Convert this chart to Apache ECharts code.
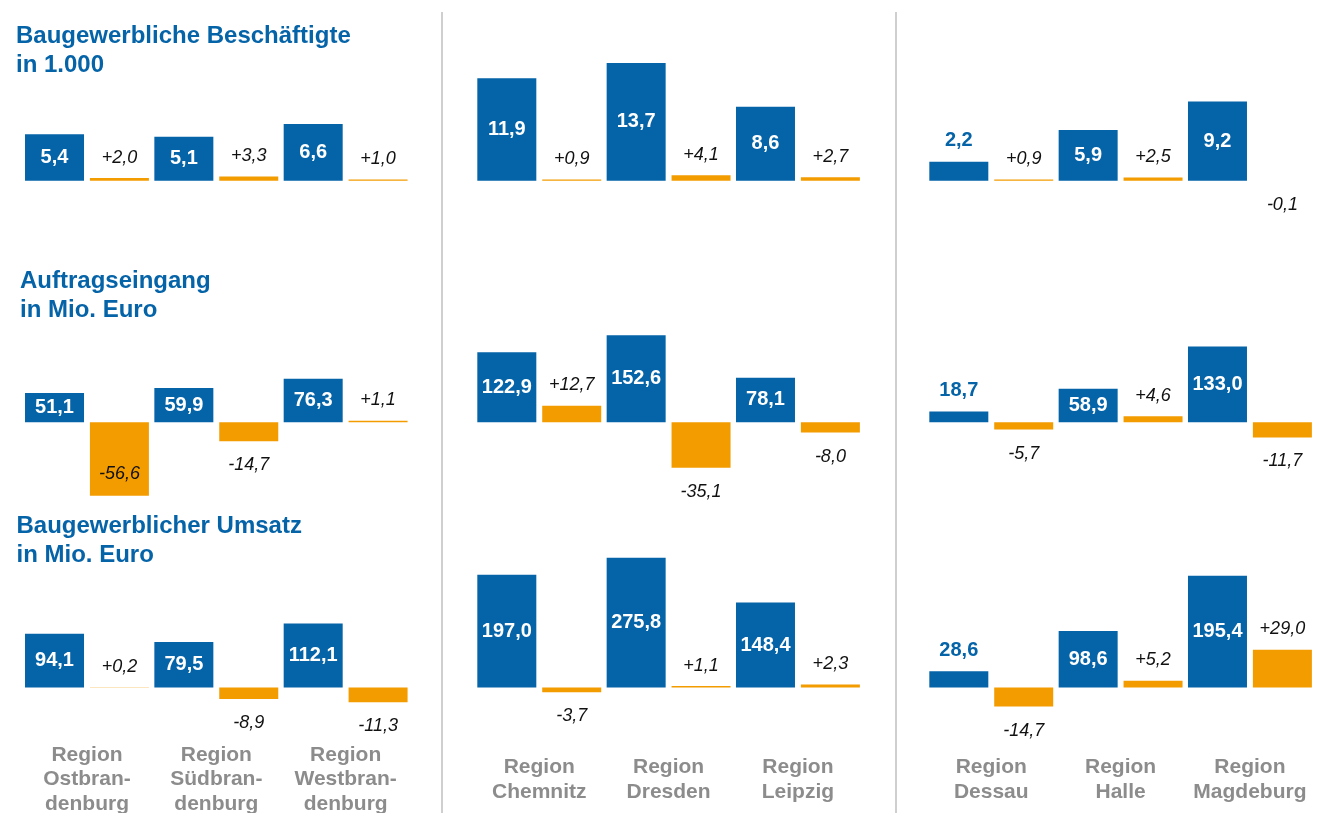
<!DOCTYPE html>
<html>
<head>
<meta charset="utf-8">
<script src="https://cdn.jsdelivr.net/npm/echarts@6/dist/echarts.min.js"></script>
<style>
  html, body { margin: 0; padding: 0; background: #ffffff; }
  #chart { width: 1321px; height: 813px; }
</style>
</head>
<body>
<div id="chart"></div>
<script>
// ---------- data ----------
const regionsBrandenburg = ['Region\nOstbran-\ndenburg', 'Region\nSüdbran-\ndenburg', 'Region\nWestbran-\ndenburg'];
const regionsSachsen = ['Region\nChemnitz', 'Region\nDresden', 'Region\nLeipzig'];
const regionsSachsenAnhalt = ['Region\nDessau', 'Region\nHalle', 'Region\nMagdeburg'];

const titles = ['Baugewerbliche Beschäftigte\nin 1.000', 'Auftragseingang\nin Mio. Euro', 'Baugewerblicher Umsatz\nin Mio. Euro'];

// values per region (Brandenburg x3, Sachsen x3, Sachsen-Anhalt x3)
const beschaeftigte       = [5.4, 5.1, 6.6, 11.9, 13.7, 8.6, 2.2, 5.9, 9.2];
const beschaeftigteChange = [2.0, 3.3, 1.0, 0.9, 4.1, 2.7, 0.9, 2.5, -0.1];
const auftrag             = [51.1, 59.9, 76.3, 122.9, 152.6, 78.1, 18.7, 58.9, 133.0];
const auftragChange       = [-56.6, -14.7, 1.1, 12.7, -35.1, -8.0, -5.7, 4.6, -11.7];
const umsatz              = [94.1, 79.5, 112.1, 197.0, 275.8, 148.4, 28.6, 98.6, 195.4];
const umsatzChange        = [0.2, -8.9, -11.3, -3.7, 1.1, 2.3, -14.7, 5.2, 29.0];

// ---------- layout / style ----------
const BLUE = '#0563A8';
const ORANGE = '#F39C00';
const GRAY = '#8C8C8C';
const FONT = '"Liberation Sans", Arial, Helvetica, sans-serif';

const regionGroups = [regionsBrandenburg, regionsSachsen, regionsSachsenAnhalt];
const rowValues = [beschaeftigte, auftrag, umsatz];
const rowChanges = [beschaeftigteChange, auftragChange, umsatzChange];

const colLeft = [22.3, 474.6, 926.6];
const colWidth = 388;
const rowBase = [180.7, 422.2, 687.5];
const rowTop = [40, 300, 557.7];
const rowBottom = [260, 520, 740];
const bluePpu = [8.6, 0.569, 0.572];
const orangePpu = 1.3;
const titleTop = [21.5, 267, 512];
const titleLeft = [16, 20, 16.5];
const labelCenterY = 779.5;

function fmt(v) { return v.toFixed(1).replace('.', ','); }
function fmtSigned(v) { return (v > 0 ? '+' : '') + fmt(v); }

const grid = [], xAxis = [], yAxis = [], series = [];

for (let r = 0; r < 3; r++) {
  for (let c = 0; c < 3; c++) {
    const k = r * 3 + c;
    const top = rowTop[r], bottom = rowBottom[r], base = rowBase[r];
    grid.push({
      left: colLeft[c], top: top, width: colWidth, height: bottom - top,
      containLabel: false, outerBoundsMode: 'none'
    });
    const isBottomRow = r === 2;
    xAxis.push({
      type: 'category', gridIndex: k, data: regionGroups[c],
      axisLine: { show: false, onZero: false }, axisTick: { show: false },
      splitLine: { show: false },
      axisLabel: {
        show: isBottomRow, interval: 0,
        margin: labelCenterY - bottom,
        verticalAlign: 'middle',
        color: GRAY, fontSize: 21, fontWeight: 'bold', fontFamily: FONT,
        lineHeight: 24.5, align: 'center'
      }
    });
    yAxis.push({
      type: 'value', gridIndex: k, show: false,
      min: -(bottom - base) / bluePpu[r], max: (base - top) / bluePpu[r],
      splitLine: { show: false }
    });
    yAxis.push({
      type: 'value', gridIndex: k, show: false,
      min: -(bottom - base) / orangePpu, max: (base - top) / orangePpu,
      splitLine: { show: false }
    });

    const vals = rowValues[r].slice(c * 3, c * 3 + 3);
    const chg = rowChanges[r].slice(c * 3, c * 3 + 3);

    const blueData = vals.map(v => {
      const h = Math.abs(v) * bluePpu[r];
      return {
        value: v,
        label: h >= 25
          ? { position: 'inside', color: '#ffffff' }
          : { position: 'top', distance: 11, color: BLUE }
      };
    });
    const orangeData = chg.map(v => {
      const h = Math.abs(v) * orangePpu;
      let label;
      if (v >= 0) label = { position: 'top', distance: 11.5 };
      else if (h > 60) label = { position: 'insideBottom', distance: 12.5 };
      else label = { position: 'bottom', distance: 15 };
      return { value: v, label: label };
    });

    series.push({
      type: 'bar', xAxisIndex: k, yAxisIndex: 2 * k,
      data: blueData, barWidth: 59, barGap: '10%', clip: true,
      itemStyle: { color: BLUE },
      label: {
        show: true, fontSize: 20, fontWeight: 'bold', fontFamily: FONT,
        formatter: p => fmt(p.value)
      },
      emphasis: { disabled: true }, silent: true
    });
    series.push({
      type: 'bar', xAxisIndex: k, yAxisIndex: 2 * k + 1,
      data: orangeData, barWidth: 59, barGap: '10%', clip: true,
      itemStyle: { color: ORANGE },
      label: {
        show: true, fontSize: 18, fontStyle: 'italic', fontFamily: FONT,
        color: '#111111',
        formatter: p => fmtSigned(p.value)
      },
      emphasis: { disabled: true }, silent: true
    });
  }
}

const graphic = [];
for (let r = 0; r < 3; r++) {
  graphic.push({
    type: 'text', left: titleLeft[r], top: titleTop[r], silent: true,
    style: {
      text: titles[r], fill: BLUE, fontSize: 24, fontWeight: 'bold',
      fontFamily: FONT, lineHeight: 29
    }
  });
}
[442, 896].forEach(x => {
  graphic.push({
    type: 'line', silent: true,
    shape: { x1: x, y1: 12, x2: x, y2: 813 },
    style: { stroke: '#CFCFCF', lineWidth: 2 }
  });
});

const chart = echarts.init(document.getElementById('chart'), null, { renderer: 'canvas' });
chart.setOption({
  animation: false,
  backgroundColor: '#ffffff',
  tooltip: { show: false },
  legend: { show: false },
  grid, xAxis, yAxis, series, graphic
});
</script>
</body>
</html>
